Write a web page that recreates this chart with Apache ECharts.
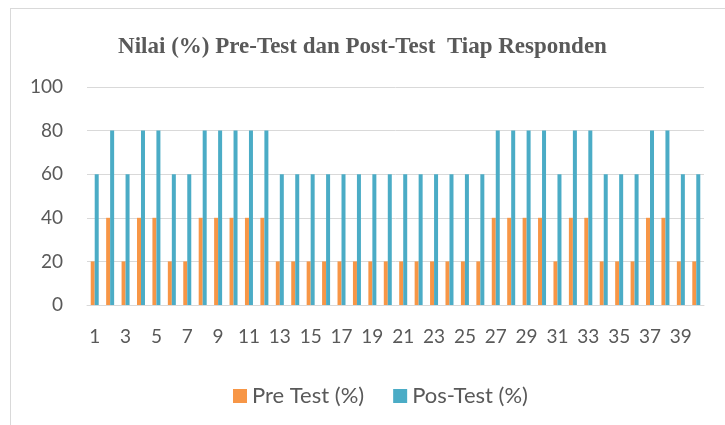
<!DOCTYPE html>
<html lang="id">
<head>
    <meta charset="UTF-8">
    <title>Nilai Pre-Test dan Post-Test</title>
    <script src="https://cdn.jsdelivr.net/npm/echarts@6/dist/echarts.min.js"></script>
    <style>
        html, body { margin: 0; padding: 0; background: #fff; }
        #frame { position: absolute; left: 10px; top: 8px; width: 720px; height: 420px; border: 1px solid #d9d9d9; box-sizing: border-box; }
        #chart { width: 725px; height: 425px; position: absolute; left: 0; top: 0; }
    </style>
</head>
<body>
    <div id="frame"></div>
    <div id="chart"></div>
    <script>
        // responden 1..40
        var responden = [];
        for (var i = 1; i <= 40; i++) responden.push(String(i));

        var preTest = [20, 40, 20, 40, 40, 20, 20, 40, 40, 40,
                       40, 40, 20, 20, 20, 20, 20, 20, 20, 20,
                       20, 20, 20, 20, 20, 20, 40, 40, 40, 40,
                       20, 40, 40, 20, 20, 20, 40, 40, 20, 20];
        var postTest = [60, 80, 60, 80, 80, 60, 60, 80, 80, 80,
                        80, 80, 60, 60, 60, 60, 60, 60, 60, 60,
                        60, 60, 60, 60, 60, 60, 80, 80, 80, 80,
                        60, 80, 80, 60, 60, 60, 80, 80, 60, 60];

        var myChart = echarts.init(document.getElementById('chart'));

        var option = {
            animation: false,
            title: {
                text: 'Nilai (%) Pre-Test dan Post-Test  Tiap Responden',
                left: 'center',
                top: 31,
                textStyle: {
                    fontFamily: 'Liberation Serif',
                    fontWeight: 'bold',
                    fontSize: 23,
                    color: '#595959'
                }
            },
            legend: {
                data: ['Pre Test (%)', 'Pos-Test (%)'],
                top: 380,
                left: 228,
                itemWidth: 14,
                itemHeight: 14,
                itemGap: 29,
                icon: 'rect',
                textStyle: { fontFamily: 'Lato', fontSize: 22, color: '#595959' }
            },
            grid: {
                left: 87,
                right: 21,
                top: 87,
                bottom: 120
            },
            xAxis: {
                type: 'category',
                data: responden,
                axisLine: { lineStyle: { color: '#d9d9d9' } },
                axisTick: { show: false },
                axisLabel: {
                    interval: 1,
                    margin: 22,
                    fontFamily: 'Lato',
                    fontSize: 19,
                    color: '#595959'
                }
            },
            yAxis: {
                type: 'value',
                min: 0,
                max: 100,
                interval: 20,
                splitLine: { lineStyle: { color: '#d9d9d9' } },
                axisLabel: {
                    margin: 24,
                    fontFamily: 'Lato',
                    fontSize: 19,
                    color: '#595959'
                }
            },
            series: [
                {
                    name: 'Pre Test (%)',
                    type: 'bar',
                    data: preTest,
                    barWidth: 4,
                    barGap: '0%',
                    itemStyle: { color: '#f79646' }
                },
                {
                    name: 'Pos-Test (%)',
                    type: 'bar',
                    data: postTest,
                    barWidth: 4,
                    barGap: '0%',
                    itemStyle: { color: '#4bacc6' }
                }
            ]
        };

        myChart.setOption(option);
    </script>
</body>
</html>
